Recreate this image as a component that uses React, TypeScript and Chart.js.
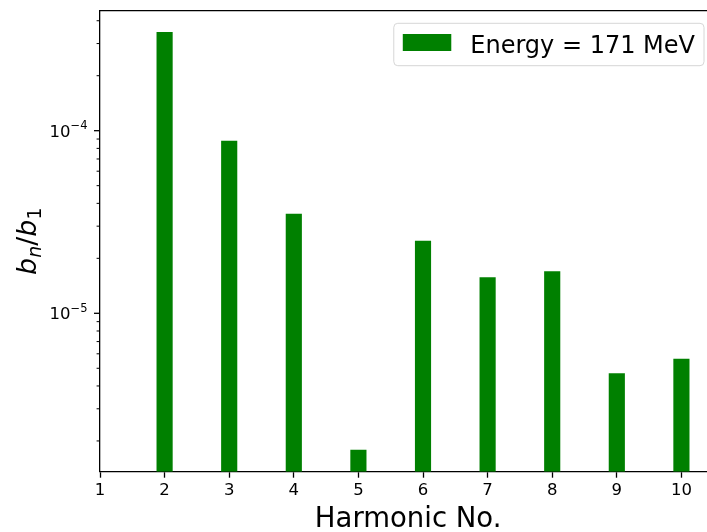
import React, { useEffect, useRef } from 'react';
import { Chart, registerables } from 'chart.js';

Chart.register(...registerables);

// ---- data ----
const HARMONICS = [2, 3, 4, 5, 6, 7, 8, 9, 10];
const RATIO = [3.47e-4, 8.81e-5, 3.51e-5, 1.79e-6, 2.5e-5, 1.575e-5, 1.7e-5, 4.69e-6, 5.64e-6];
const X_TICKS = [1, 2, 3, 4, 5, 6, 7, 8, 9, 10];
const Y_DECADES = [1e-6, 1e-5, 1e-4];
const Y_MULTIPLES = [1, 2, 3, 4, 5, 6, 7, 8, 9];
const Y_MAJOR = [1e-5, 1e-4];
const SERIES_LABEL = 'Energy = 171 MeV';
const X_TITLE = 'Harmonic No.';
const X_MIN = 1;
const X_MAX = 10.54;
const Y_MIN = 1.357e-6;
const Y_MAX = 4.54e-4;
const BAR_COLOR = '#008000';

const FONT = '"DejaVu Sans", sans-serif';

const decor = {
  id: 'decor',
  afterDraw(chart: any) {
    const { ctx, chartArea: a, scales } = chart;
    const y = scales.y;
    ctx.save();
    // top spine
    ctx.strokeStyle = '#000';
    ctx.lineWidth = 1.3;
    ctx.beginPath();
    ctx.moveTo(a.left - 0.65, a.top);
    ctx.lineTo(a.right, a.top);
    ctx.stroke();

    // y ticks
    for (const t of y.ticks) {
      const py = y.getPixelForValue(t.value);
      const major = Y_MAJOR.some((m) => Math.abs(m - t.value) / m < 1e-9);
      const len = major ? 6 : 3.4;
      ctx.lineWidth = major ? 1.3 : 1;
      ctx.beginPath();
      ctx.moveTo(a.left - len, py);
      ctx.lineTo(a.left, py);
      ctx.stroke();
      if (major) {
        const exp = Math.round(Math.log10(t.value));
        const sup = (exp < 0 ? '\u2212' : '') + Math.abs(exp);
        ctx.fillStyle = '#000';
        ctx.textBaseline = 'alphabetic';
        ctx.textAlign = 'left';
        ctx.font = `11.5px ${FONT}`;
        const sw = ctx.measureText(sup).width;
        ctx.font = `16.5px ${FONT}`;
        const bw = ctx.measureText('10').width;
        const right = a.left - 12.5;
        const base = py + 6;
        ctx.fillText('10', right - sw - bw, base);
        ctx.font = `11.5px ${FONT}`;
        ctx.fillText(sup, right - sw, base - 7.5);
      }
    }

    // x title
    ctx.fillStyle = '#000';
    ctx.font = `27.5px ${FONT}`;
    ctx.textAlign = 'center';
    ctx.textBaseline = 'alphabetic';
    ctx.fillText(X_TITLE, (a.left + a.right) / 2, 527);

    // y title: b_n / b_1
    ctx.save();
    ctx.translate(36, (a.top + a.bottom) / 2);
    ctx.rotate(-Math.PI / 2);
    const big = 27;
    const small = 19;
    const subDrop = 4.5;
    const parts: [string, number, boolean, number][] = [
      ['b', big, true, 0],
      ['n', small, true, subDrop],
      ['/', big, false, 0],
      ['b', big, true, 0],
      ['1', small, false, subDrop],
    ];
    let total = 0;
    for (const [s, sz, it] of parts) {
      ctx.font = `${it ? 'italic ' : ''}${sz}px ${FONT}`;
      total += ctx.measureText(s).width;
    }
    let cx = -total / 2;
    ctx.textAlign = 'left';
    for (const [s, sz, it, dy] of parts) {
      ctx.font = `${it ? 'italic ' : ''}${sz}px ${FONT}`;
      ctx.fillText(s, cx, dy);
      cx += ctx.measureText(s).width;
    }
    ctx.restore();

    // legend
    const ds = chart.data.datasets[0];
    ctx.font = `24px ${FONT}`;
    const tw = ctx.measureText(ds.label).width;
    const boxRight = a.right - 12.3;
    const boxTop = a.top + 12.6;
    const boxH = 42.4;
    const boxW = 9 + 48.5 + 19 + tw + 9;
    const boxLeft = boxRight - boxW;
    ctx.beginPath();
    ctx.roundRect(boxLeft, boxTop, boxW, boxH, 4);
    ctx.fillStyle = 'rgba(255,255,255,0.8)';
    ctx.fill();
    ctx.strokeStyle = '#d6d6d6';
    ctx.lineWidth = 1;
    ctx.stroke();
    ctx.fillStyle = ds.backgroundColor;
    ctx.fillRect(boxLeft + 9, boxTop + 10.7, 48.5, 17);
    ctx.fillStyle = '#000';
    ctx.textAlign = 'left';
    ctx.textBaseline = 'alphabetic';
    ctx.fillText(ds.label, boxLeft + 9 + 48.5 + 19, boxTop + 29.4);
    ctx.restore();
  },
};

export default function App() {
  const ref = useRef<HTMLCanvasElement | null>(null);
  useEffect(() => {
    if (!ref.current) return;
    const chart = new Chart(ref.current, {
      type: 'bar',
      data: {
        datasets: [
          {
            label: SERIES_LABEL,
            data: HARMONICS.map((h, i) => ({ x: h, y: RATIO[i] })),
            backgroundColor: BAR_COLOR,
            borderWidth: 0,
            barPercentage: 0.25,
            categoryPercentage: 1,
          },
        ],
      },
      options: {
        animation: false,
        responsive: false,
        maintainAspectRatio: false,
        layout: { padding: { top: 10.7, right: 0.7, left: 0, bottom: 0 } },
        plugins: { legend: { display: false }, tooltip: { enabled: false } },
        scales: {
          x: {
            type: 'linear',
            min: X_MIN,
            max: X_MAX,
            bounds: 'data',
            offset: false,
            afterBuildTicks: (s: any) => {
              s.ticks = X_TICKS.map((v) => ({ value: v }));
            },
            afterFit: (s: any) => {
              s.height = 60.3;
            },
            grid: {
              display: true,
              offset: false,
              drawOnChartArea: false,
              tickLength: 6,
              tickWidth: 1.3,
              tickColor: '#000',
              color: '#000',
            },
            border: { display: true, color: '#000', width: 1.3 },
            ticks: {
              color: '#000',
              font: { family: FONT, size: 16.5 },
              padding: 3,
              maxRotation: 0,
              autoSkip: false,
              callback: (v: any) => String(v),
            },
          },
          y: {
            type: 'logarithmic',
            min: Y_MIN,
            max: Y_MAX,
            bounds: 'data',
            afterBuildTicks: (s: any) => {
              const vals: number[] = [];
              for (const d of Y_DECADES)
                for (const k of Y_MULTIPLES) {
                  const v = k * d;
                  if (v >= Y_MIN && v <= Y_MAX) vals.push(v);
                }
              s.ticks = vals.map((v) => ({ value: v }));
            },
            afterFit: (s: any) => {
              s.width = 100;
            },
            grid: { display: false },
            border: { display: true, color: '#000', width: 1.3 },
            ticks: { display: false, autoSkip: false },
          },
        },
      },
      plugins: [decor],
    });
    return () => chart.destroy();
  }, []);
  return (
    <div
      style={{
        position: 'fixed',
        left: 0,
        top: 0,
        width: 707,
        height: 532,
        overflow: 'hidden',
        background: '#fff',
      }}
    >
      <canvas ref={ref} width={717} height={532} style={{ display: 'block' }} />
    </div>
  );
}
